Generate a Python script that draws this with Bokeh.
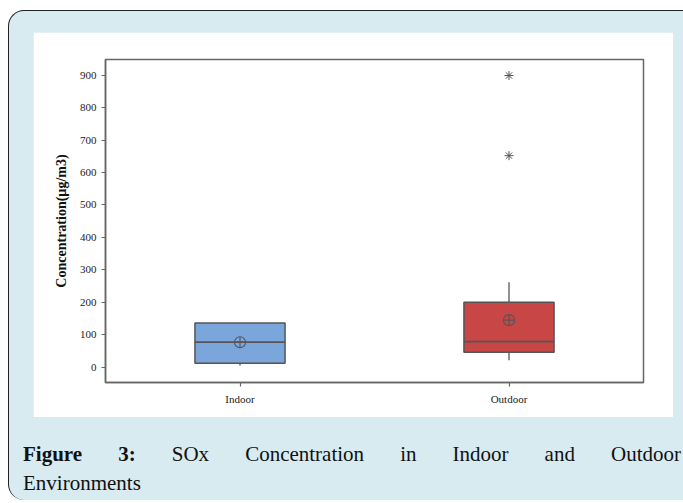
from bokeh.plotting import figure
from bokeh.models import FactorRange, Range1d, Div, FixedTicker
from bokeh.layouts import column
from bokeh.embed import file_html
from bokeh.resources import INLINE

# ---- data ----
groups = ["Indoor", "Outdoor"]
q1 = [12, 46]
median = [77, 79]
q3 = [136, 200]
whisker_low = [5, 21]
whisker_high = [136, 262]
mean = [77, 145]
outlier_groups = ["Outdoor", "Outdoor"]
outlier_values = [652, 899]
box_colors = ["#7ba6db", "#c94646"]
y_ticks = [0, 100, 200, 300, 400, 500, 600, 700, 800, 900]

SERIF = "Liberation Serif"
EDGE = "#555555"

p = figure(
    x_range=FactorRange(*groups),
    y_range=Range1d(-47.2, 948.4),
    width=640, height=385,
    min_border_left=72, min_border_right=30,
    min_border_top=27, min_border_bottom=35,
    output_backend="svg", toolbar_location=None,
    background_fill_color="white", border_fill_color="white",
)
p.outline_line_color = "#666666"
p.outline_line_width = 1.5
p.xgrid.visible = False
p.ygrid.visible = False

# whiskers
p.segment(x0=groups, y0=q3, x1=groups, y1=whisker_high, line_color=EDGE, line_width=1.3)
p.segment(x0=groups, y0=q1, x1=groups, y1=whisker_low, line_color=EDGE, line_width=1.3)
# boxes
p.vbar(x=groups, top=q3, bottom=q1, width=0.335, fill_color=box_colors,
       line_color=EDGE, line_width=1.5)
# medians
p.vbar(x=groups, top=median, bottom=median, width=0.335, fill_color=None,
       line_color=EDGE, line_width=1.8)
# means
p.scatter(x=groups, y=mean, marker="circle_cross", size=11, fill_color=None,
          line_color=EDGE, line_width=1.1)
# outliers
p.scatter(x=outlier_groups, y=outlier_values, marker="asterisk", size=9,
          line_color="#555555", line_width=1.0)

# axes
p.yaxis.ticker = FixedTicker(ticks=y_ticks)
p.yaxis.minor_tick_line_color = None
p.yaxis.axis_label = "Concentration(µg/m3)"
p.yaxis.axis_label_text_font = SERIF
p.yaxis.axis_label_text_font_style = "bold"
p.yaxis.axis_label_text_font_size = "14px"
p.yaxis.axis_label_text_color = "#111111"
p.yaxis.axis_label_standoff = 8
for ax in (p.xaxis[0], p.yaxis[0]):
    ax.axis_line_color = "#666666"
    ax.axis_line_width = 1.5
    ax.major_tick_line_color = "#666666"
    ax.major_tick_line_width = 1.2
    ax.major_tick_out = 4
    ax.major_tick_in = 0
    ax.major_label_text_font = SERIF
    ax.major_label_text_font_size = "11px"
    ax.major_label_text_color = "#222222"
    ax.major_label_standoff = 5
p.xaxis.major_label_standoff = 6

caption = Div(
    text=(
        "<div style=\"width:658px;font-family:'Liberation Serif';font-size:21px;"
        "line-height:29px;color:#111;\">"
        "<div style=\"width:658px;text-align:justify;text-align-last:justify;\">"
        "<b>Figure 3:</b> SOx Concentration in Indoor and Outdoor</div>"
        "<div>Environments</div></div>"
    ),
    width=658, height=60,
)

p.margin = (21, 0, 0, 24)
caption.margin = (23, 0, 0, 14)

panel = column(
    p, caption, width=675, height=490,
    styles={
        "background-color": "#d7ebf1",
        "border-left": "1.5px solid #222222",
        "border-top": "1.5px solid #222222",
        "border-radius": "16px 0 0 16px",
        "margin-top": "10px",
        "margin-left": "8px",
    },
)

open("out.html", "w").write(file_html(panel, INLINE))
